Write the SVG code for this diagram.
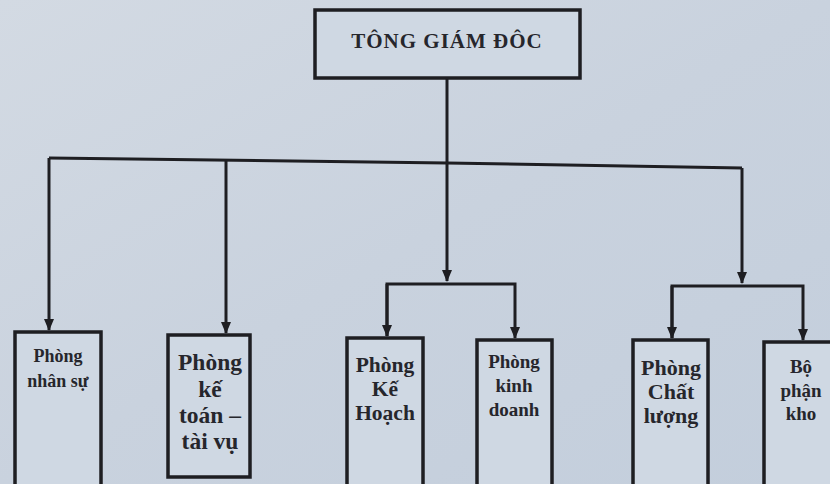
<svg xmlns="http://www.w3.org/2000/svg" width="830" height="484" viewBox="0 0 830 484">
<defs>
<linearGradient id="bg" x1="0" y1="0" x2="1" y2="1">
<stop offset="0" stop-color="#d3dae3"/>
<stop offset="0.5" stop-color="#c9d2de"/>
<stop offset="1" stop-color="#c3cedc"/>
</linearGradient>
<marker id="arr" viewBox="0 0 12 12" refX="11" refY="6" markerWidth="12" markerHeight="12" markerUnits="userSpaceOnUse" orient="auto">
<path d="M0,1 L12,6 L0,11 Z" fill="#1e1e22"/>
</marker>
<style>
.box{fill:#cfd8e3;stroke:#1e1e22;stroke-width:3.5}
.ln{fill:none;stroke:#1e1e22;stroke-width:3}
.t{font-family:"Liberation Serif","DejaVu Serif",serif;font-weight:bold;fill:#26262c;text-anchor:middle}
</style>
</defs>
<rect width="830" height="484" fill="url(#bg)"/>
<g id="connectors">
<path class="ln" d="M447,78 L447,163"/>
<path class="ln" d="M49,158 L447,163 L742,168"/>
<path class="ln" d="M49,158 L49,330" marker-end="url(#arr)"/>
<path class="ln" d="M226,160 L226,333" marker-end="url(#arr)"/>
<path class="ln" d="M447,163 L447,281" marker-end="url(#arr)"/>
<path class="ln" d="M742,168 L742,283" marker-end="url(#arr)"/>
<path class="ln" d="M387,336 L387,284 L515,284 L515,338" marker-end="url(#arr)"/>
<path class="ln" d="M387,284 L387,336" marker-end="url(#arr)"/>
<path class="ln" d="M672,338 L672,286 L803,286 L803,340" marker-end="url(#arr)"/>
<path class="ln" d="M672,286 L672,338" marker-end="url(#arr)"/>
</g>
<g id="tgd">
<rect class="box" x="315" y="10" width="265" height="68"/>
<text class="t" x="447" y="48" font-size="21" letter-spacing="1">TÔNG GIÁM ĐÔC</text>
</g>
<g id="nhansu">
<rect class="box" x="15" y="332" width="86" height="160"/>
<text class="t" font-size="18"><tspan x="58" y="362">Phòng</tspan><tspan x="58" y="387">nhân sự</tspan></text>
</g>
<g id="ketoan">
<rect class="box" x="168" y="335" width="82" height="142"/>
<text class="t" font-size="23.5"><tspan x="210" y="370">Phòng</tspan><tspan x="210" y="397">kế</tspan><tspan x="210" y="423">toán –</tspan><tspan x="210" y="449">tài vụ</tspan></text>
</g>
<g id="kehoach">
<rect class="box" x="347" y="338" width="76" height="154"/>
<text class="t" font-size="21.5"><tspan x="385" y="372">Phòng</tspan><tspan x="385" y="396">Kế</tspan><tspan x="385" y="420">Hoạch</tspan></text>
</g>
<g id="kinhdoanh">
<rect class="box" x="477" y="340" width="75" height="152"/>
<text class="t" font-size="19"><tspan x="514" y="368">Phòng</tspan><tspan x="514" y="392">kinh</tspan><tspan x="514" y="416">doanh</tspan></text>
</g>
<g id="chatluong">
<rect class="box" x="633" y="340" width="75" height="152"/>
<text class="t" font-size="22"><tspan x="671" y="375">Phòng</tspan><tspan x="671" y="399">Chất</tspan><tspan x="671" y="423">lượng</tspan></text>
</g>
<g id="kho">
<rect class="box" x="764" y="342" width="80" height="150"/>
<text class="t" font-size="19"><tspan x="801" y="373">Bộ</tspan><tspan x="801" y="397">phận</tspan><tspan x="801" y="420">kho</tspan></text>
</g>
</svg>
